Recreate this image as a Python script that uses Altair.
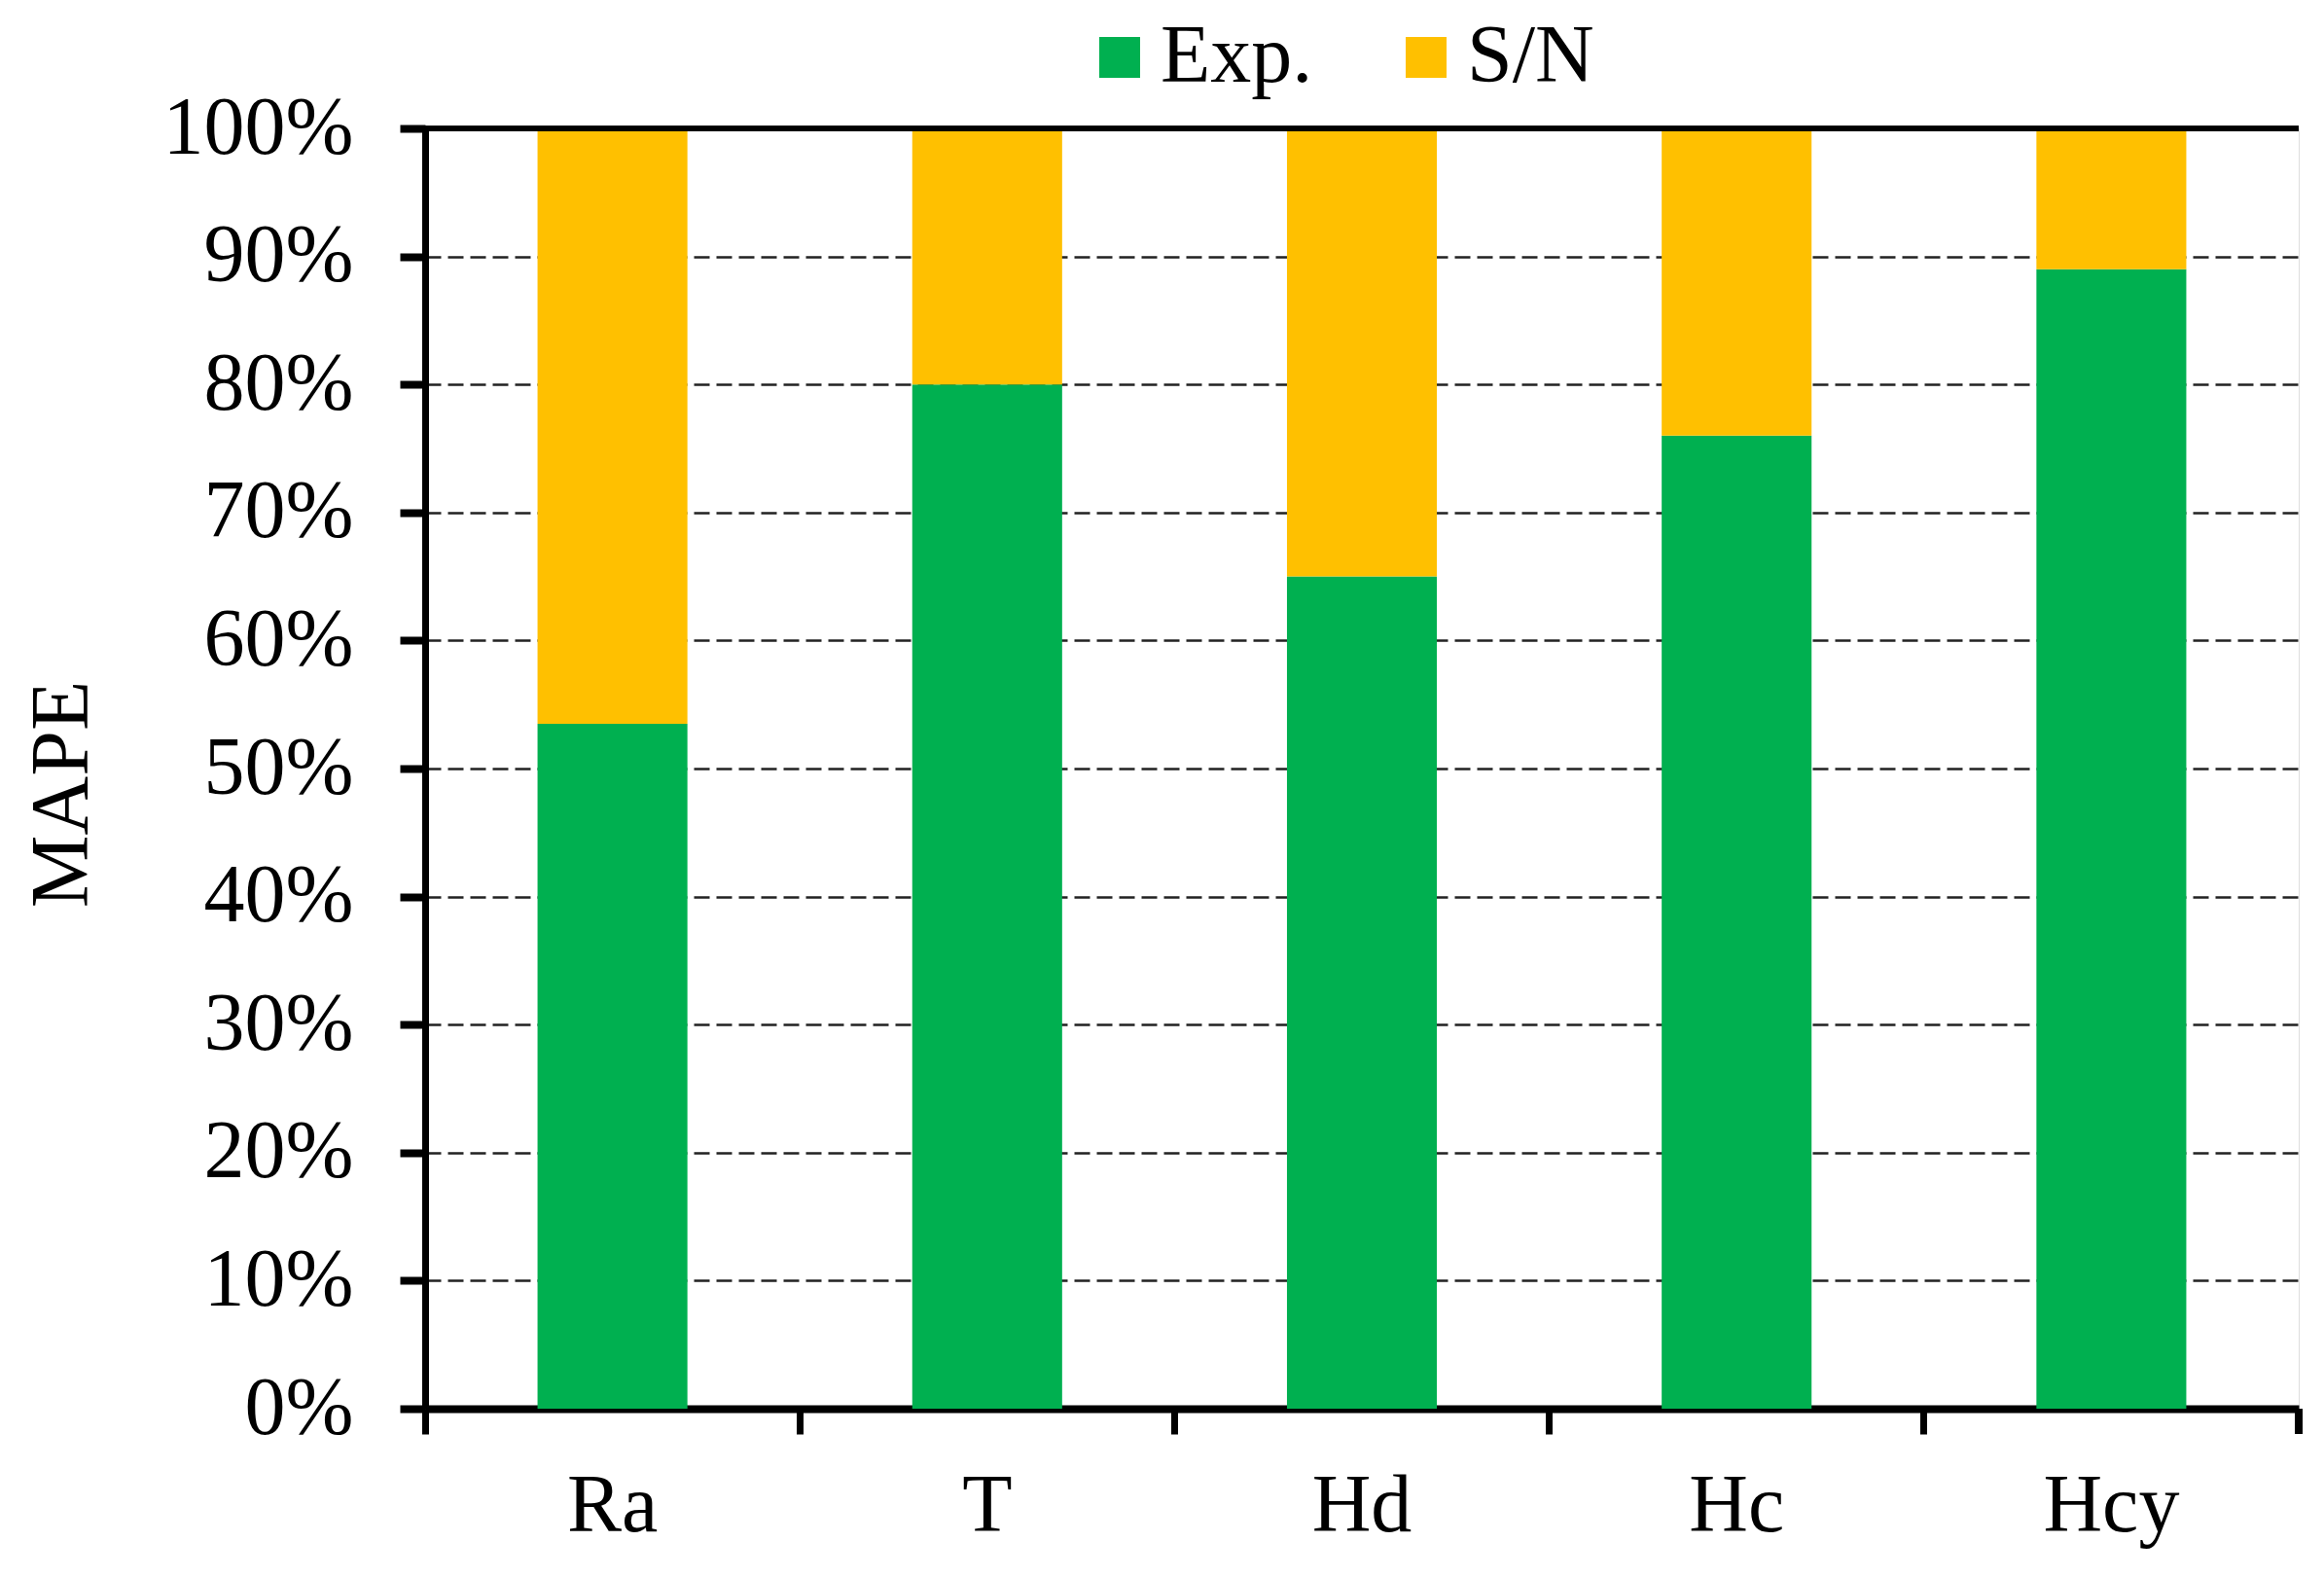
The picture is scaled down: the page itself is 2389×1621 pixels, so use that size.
import altair as alt
import pandas as pd

categories = ["Ra", "T", "Hd", "Hc", "Hcy"]
exp_values = [0.535, 0.80, 0.65, 0.76, 0.89]
sn_values = [0.465, 0.20, 0.35, 0.24, 0.11]
series = ["Exp.", "S/N"]
colors = ["#00B050", "#FFC000"]
y_ticks = [0, 0.1, 0.2, 0.3, 0.4, 0.5, 0.6, 0.7, 0.8, 0.9, 1.0]

rows = []
for c, e, s in zip(categories, exp_values, sn_values):
    rows.append({"cat": c, "series": "Exp.", "value": e, "ord": 0})
    rows.append({"cat": c, "series": "S/N", "value": s, "ord": 1})
df = pd.DataFrame(rows)

W, H = 1926, 1316
FONT = "Liberation Serif"
FS = 84

bars = alt.Chart(df).mark_bar(width=alt.RelativeBandSize(0.4)).encode(
    x=alt.X("cat:N", sort=categories,
            scale=alt.Scale(paddingInner=0, paddingOuter=0),
            axis=alt.Axis(title=None, bandPosition=0,
                          labelAngle=0, labelAlign="center", tickSize=26, tickWidth=7,
                          tickColor="black", domainWidth=8, domainColor="black",
                          labelFont=FONT, labelFontSize=FS, labelColor="black",
                          labelPadding=33, labelBaseline="top", labelLimit=400)),
    y=alt.Y("value:Q", stack="zero",
            scale=alt.Scale(domain=[0, 1], nice=False),
            axis=alt.Axis(title="MAPE", values=y_ticks, format=".0%",
                          titleFont=FONT, titleFontSize=FS, titleFontWeight="normal",
                          titleColor="black", titlePadding=130, titleY=H / 2 + 26,
                          labelFont=FONT, labelFontSize=FS, labelColor="black",
                          labelPadding=48, labelLimit=400,
                          tickSize=26, tickWidth=8, tickColor="black",
                          domainWidth=7, domainColor="black",
                          grid=True, gridDash=[16, 7], gridColor="#222222",
                          gridWidth=2.5)),
    color=alt.Color("series:N", sort=series,
                    scale=alt.Scale(domain=series, range=colors),
                    legend=alt.Legend(title=None, orient="none", legendX=672,
                                      legendY=-115, direction="horizontal",
                                      symbolType="square", symbolSize=1764,
                                      symbolStrokeWidth=0, labelFont=FONT,
                                      labelFontSize=FS, labelColor="black",
                                      columnPadding=74, labelOffset=0)),
    order=alt.Order("ord:Q"),
)

end_tick = alt.Chart(df).mark_rule(color="black", strokeWidth=7).encode(
    x=alt.value(W), y=alt.value(H), y2=alt.value(H + 26)
)

top_line = alt.Chart(df).mark_rule(color="black", strokeWidth=4.5).encode(
    x=alt.value(0), x2=alt.value(W), y=alt.value(0)
)

chart = alt.layer(bars, end_tick, top_line).properties(
    width=W, height=H,
    autosize=alt.AutoSizeParams(type="none"),
    padding={"left": 429, "top": 124, "right": 10, "bottom": 150},
).configure_view(stroke="black", strokeWidth=3).configure(background="white")

chart.save("out.html", embed_options={"renderer": "svg", "actions": False})
